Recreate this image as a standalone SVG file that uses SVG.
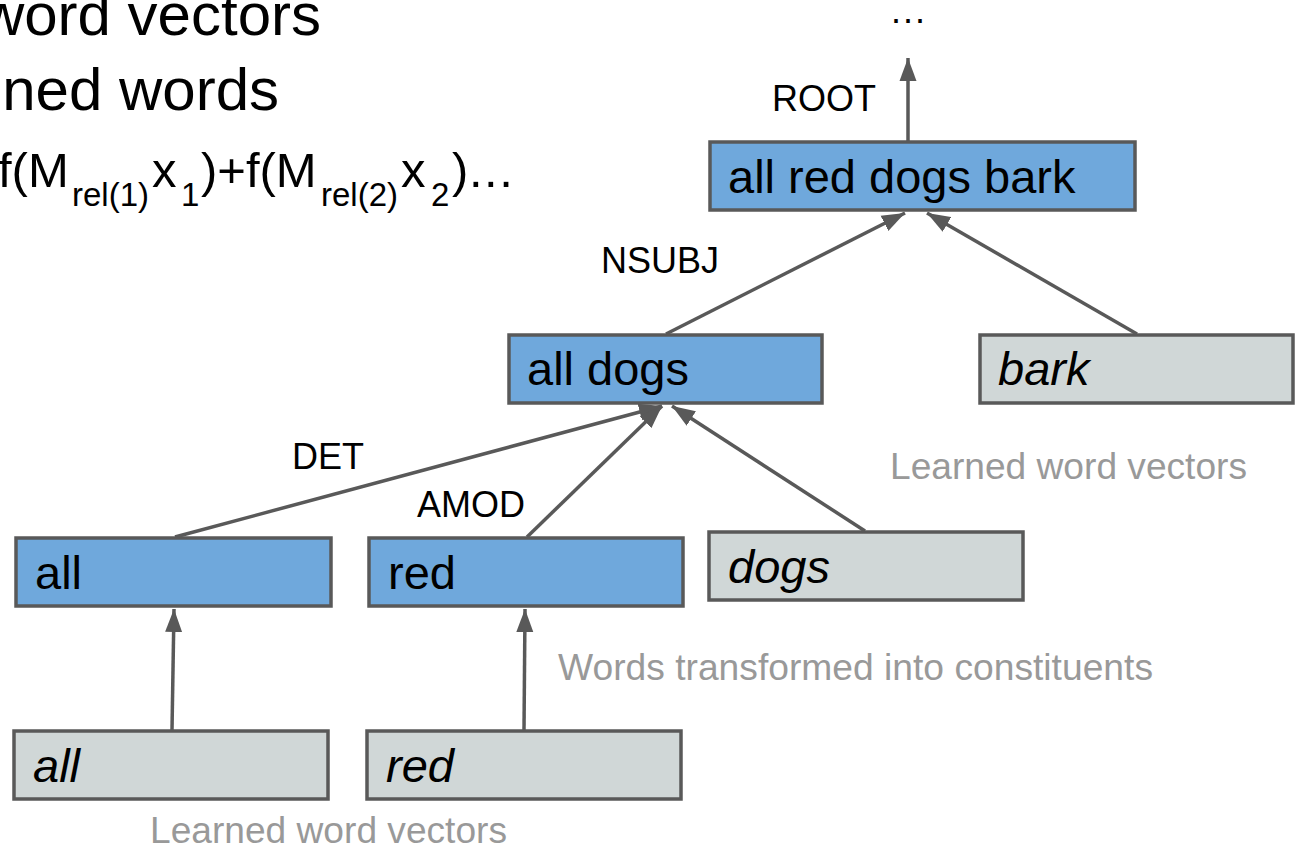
<svg xmlns="http://www.w3.org/2000/svg" width="1299" height="844" viewBox="0 0 1299 844">
<style>
  text { font-family: "Liberation Sans", Arial, sans-serif; }
  .blue { fill: #6fa8dc; stroke: #595959; stroke-width: 3.5; }
  .gray { fill: #d0d7d7; stroke: #595959; stroke-width: 3.5; }
  .t { font-size: 47px; fill: #000; }
  .ti { font-size: 47px; fill: #000; font-style: italic; }
  .lbl { font-size: 36px; fill: #000; }
  .note { font-size: 36px; fill: #999999; }
  .big { font-size: 60px; fill: #000; }
  .edge { stroke: #595959; stroke-width: 3.5; fill: none; marker-end: url(#ah); }
</style>
<defs>
  <marker id="ah" markerUnits="userSpaceOnUse" markerWidth="24" markerHeight="18" refX="23" refY="9" orient="auto">
    <path d="M0,0.5 L23,9 L0,17.5 z" fill="#595959"/>
  </marker>
</defs>
<rect width="1299" height="844" fill="#ffffff"/>

<g id="heading">
  <text class="big" x="321" y="35" text-anchor="end">word vectors</text>
  <text class="big" x="279" y="110" text-anchor="end">ned words</text>
  <text y="187" fill="#000"><tspan x="-2" font-size="49">f(M</tspan><tspan x="72" y="206" font-size="33">rel(1)</tspan><tspan x="152" y="187" font-size="49">x</tspan><tspan x="181" y="206" font-size="33">1</tspan><tspan x="201" y="187" font-size="49">)+f(M</tspan><tspan x="321" y="206" font-size="33">rel(2)</tspan><tspan x="401" y="187" font-size="49">x</tspan><tspan x="431" y="206" font-size="33">2</tspan><tspan x="452" y="187" font-size="49">)</tspan><tspan x="469" y="187" font-size="49" letter-spacing="1.5">...</tspan></text>
</g>

<g id="connectors">
  <path class="edge" d="M172,730 L174,609"/>
  <path class="edge" d="M524,730 L525,609"/>
  <path class="edge" d="M175,537 L662,406"/>
  <path class="edge" d="M527,537 L662,406"/>
  <path class="edge" d="M865,531 L672,406"/>
  <path class="edge" d="M666,334 L905,213"/>
  <path class="edge" d="M1137,334 L927,213"/>
  <path class="edge" d="M908,141 L908,58"/>
  <text class="lbl" x="909" y="23" text-anchor="middle" font-size="48" letter-spacing="2">...</text>
  <text class="lbl" x="772" y="111">ROOT</text>
  <text class="lbl" x="601" y="273">NSUBJ</text>
  <text class="lbl" x="292" y="469">DET</text>
  <text class="lbl" x="417" y="517">AMOD</text>
</g>

<g id="node-all-red-dogs-bark">
  <rect class="blue" x="710" y="142" width="425" height="68"/>
  <text class="t" x="728" y="193">all red dogs bark</text>
</g>
<g id="node-all-dogs">
  <rect class="blue" x="509" y="335" width="313" height="68"/>
  <text class="t" x="527" y="385">all dogs</text>
</g>
<g id="node-bark">
  <rect class="gray" x="980" y="335" width="313" height="68"/>
  <text class="ti" x="998" y="385">bark</text>
</g>
<g id="node-all">
  <rect class="blue" x="16" y="538" width="315" height="68"/>
  <text class="t" x="35" y="589">all</text>
</g>
<g id="node-red">
  <rect class="blue" x="369" y="538" width="314" height="68"/>
  <text class="t" x="388" y="589">red</text>
</g>
<g id="node-dogs-word">
  <rect class="gray" x="709" y="532" width="314" height="68"/>
  <text class="ti" x="728" y="583">dogs</text>
</g>
<g id="node-all-word">
  <rect class="gray" x="14" y="731" width="314" height="68"/>
  <text class="ti" x="33" y="782">all</text>
</g>
<g id="node-red-word">
  <rect class="gray" x="367" y="731" width="314" height="68"/>
  <text class="ti" x="386" y="782">red</text>
</g>

<g id="notes">
  <text class="note" x="890" y="479" textLength="357" lengthAdjust="spacingAndGlyphs">Learned word vectors</text>
  <text class="note" x="558" y="680" textLength="595" lengthAdjust="spacingAndGlyphs">Words transformed into constituents</text>
  <text class="note" x="150" y="843" textLength="357" lengthAdjust="spacingAndGlyphs">Learned word vectors</text>
</g>
</svg>
